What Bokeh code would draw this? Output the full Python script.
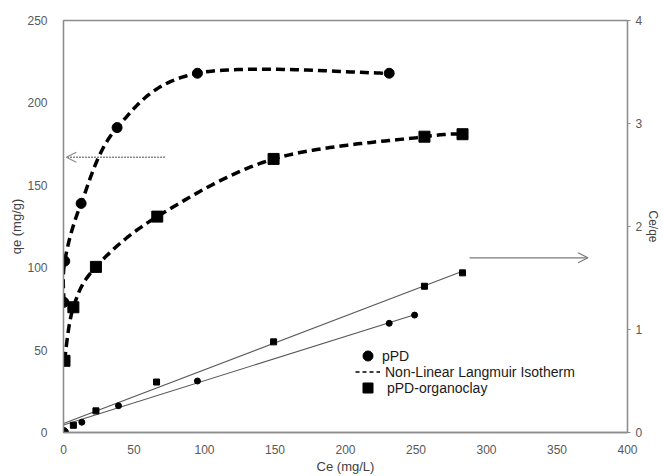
import numpy as np
from bokeh.plotting import figure
from bokeh.models import (Range1d, LinearAxis, FixedTicker, Arrow, OpenHead,
                          Legend, LegendItem)
from bokeh.embed import file_html
from bokeh.resources import INLINE

# Non-linear isotherm data: qe (mg/g) against Ce (mg/L)
ppd_ce = [0.0, 0.3, 0.9, 12.5, 38, 95, 231]
ppd_qe = [0, 79, 104, 139, 185, 218, 218]
clay_ce = [0.7, 7, 23, 66.5, 149, 256, 283]
clay_qe = [43.5, 76, 100.5, 131, 166, 179.5, 181]

# Linearised Langmuir data: Ce/qe against Ce
ppd_lin_ce = [13, 39, 95, 231, 249]
ppd_lin_ratio = [0.10, 0.26, 0.50, 1.06, 1.14]
clay_lin_ce = [7, 23, 66, 149, 256, 283]
clay_lin_ratio = [0.07, 0.21, 0.49, 0.88, 1.42, 1.55]

x_ticks = [0, 50, 100, 150, 200, 250, 300, 350, 400]
qe_ticks = [0, 50, 100, 150, 200, 250]
ratio_ticks = [0, 1, 2, 3, 4]

FONT = "Liberation Sans"
AXIS_GREY = "#8c8c8c"
TICK_TEXT = "#595959"


def smooth(xs, ys, n=40):
    """Cardinal (Catmull-Rom) spline through the points, like a smoothed line."""
    P = np.column_stack([xs, ys]).astype(float)
    m = np.zeros_like(P)
    m[1:-1] = (P[2:] - P[:-2]) / 2.0
    m[0] = (P[1] - P[0]) / 2.0
    m[-1] = (P[-1] - P[-2]) / 2.0
    t = np.linspace(0, 1, n)[:, None]
    h00 = 2 * t**3 - 3 * t**2 + 1
    h10 = t**3 - 2 * t**2 + t
    h01 = -2 * t**3 + 3 * t**2
    h11 = t**3 - t**2
    segs = [h00 * P[i] + h10 * m[i] + h01 * P[i + 1] + h11 * m[i + 1]
            for i in range(len(P) - 1)]
    out = np.vstack(segs)
    return out[:, 0], out[:, 1]


p = figure(width=663, height=476, output_backend="svg", toolbar_location=None,
           x_range=Range1d(0, 400), y_range=Range1d(0, 250),
           min_border_left=63, min_border_right=30, min_border_top=20,
           min_border_bottom=38, background_fill_color="white",
           border_fill_color="white", outline_line_color=AXIS_GREY,
           outline_line_width=1.3)
p.grid.visible = False
p.extra_y_ranges = {"ratio": Range1d(0, 4)}

# primary axes
p.xaxis.ticker = FixedTicker(ticks=x_ticks)
p.yaxis.ticker = FixedTicker(ticks=qe_ticks)
p.xaxis.axis_label = "Ce (mg/L)"
p.yaxis.axis_label = "qe (mg/g)"
for ax in (p.xaxis[0], p.yaxis[0]):
    ax.axis_line_color = AXIS_GREY
    ax.axis_line_width = 1.3
    ax.major_tick_line_color = None
    ax.minor_tick_line_color = None
    ax.major_label_text_font = FONT
    ax.major_label_text_font_size = "12px"
    ax.major_label_text_color = TICK_TEXT
    ax.axis_label_text_font = FONT
    ax.axis_label_text_font_size = "13px"
    ax.axis_label_text_font_style = "normal"
    ax.axis_label_text_color = "#404040"
p.yaxis.major_label_standoff = 10
p.yaxis.axis_label_standoff = 0
p.xaxis.major_label_standoff = 6
p.xaxis.axis_label_standoff = 2

# secondary axis for the linear form
rax = LinearAxis(y_range_name="ratio", axis_label="Ce/qe",
                 ticker=FixedTicker(ticks=ratio_ticks))
rax.axis_line_color = AXIS_GREY
rax.axis_line_width = 1.3
rax.major_tick_line_color = AXIS_GREY
rax.major_tick_in = 0
rax.major_tick_out = 3
rax.minor_tick_line_color = None
rax.major_label_standoff = 5
rax.major_label_text_font = FONT
rax.major_label_text_font_size = "12px"
rax.major_label_text_color = TICK_TEXT
rax.axis_label_text_font = FONT
rax.axis_label_text_font_size = "12px"
rax.axis_label_text_font_style = "normal"
rax.axis_label_text_color = "#404040"
rax.axis_label_standoff = 1
p.add_layout(rax, "right")

# linear regression lines (thin, solid)
for xs, ys in ((clay_lin_ce, clay_lin_ratio), (ppd_lin_ce, ppd_lin_ratio)):
    k, b = np.polyfit(xs, ys, 1)
    xe = [0, xs[-1]]
    p.line(xe, [b, k * xe[1] + b], y_range_name="ratio",
           line_color="#595959", line_width=1.1)
p.scatter(clay_lin_ce, clay_lin_ratio, y_range_name="ratio", marker="square",
          size=6, color="black")
p.scatter(ppd_lin_ce, ppd_lin_ratio, y_range_name="ratio", marker="circle",
          size=6, color="black")

# smoothed non-linear Langmuir curves (dashed)
sx, sy = smooth(ppd_ce[1:], ppd_qe[1:])
p.line(sx, sy, line_color="black", line_width=3.5, line_dash="9 5")
cx, cy = smooth(clay_ce, clay_qe)
p.line(cx, cy, line_color="black", line_width=3.5, line_dash="9 5")

r_ppd = p.scatter(ppd_ce, ppd_qe, marker="circle", size=10, color="black")
r_clay = p.scatter(clay_ce, clay_qe, marker="square", size=11, color="black")
# legend-only swatch for the fitted curve style
r_dash = p.line([np.nan, np.nan], [np.nan, np.nan], line_color="black",
                line_width=1.5, line_dash="4 3")

# arrows pointing to the axis each series belongs to
p.add_layout(Arrow(x_start=72, y_start=167, x_end=2, y_end=167,
                   line_color="#8a8a8a", line_width=1.5, line_dash="2 1",
                   end=OpenHead(size=10, line_color="#8a8a8a", line_width=1.2)))
p.add_layout(Arrow(x_start=288, y_start=106, x_end=372, y_end=106,
                   line_color="#7a7a7a", line_width=1.2,
                   end=OpenHead(size=10, line_color="#7a7a7a", line_width=1.2)))

# one legend box per entry so the rows can sit close together
entries = [("pPD", r_ppd, 64, 2), ("Non-Linear Langmuir Isotherm", r_dash, 48, 5),
           ("pPD-organoclay", r_clay, 32, 7)]
for label, rend, bottom, gap in entries:
    lg = Legend(items=[LegendItem(label=label, renderers=[rend])],
                location=(292, bottom), glyph_width=25, glyph_height=25,
                label_height=16, padding=0, margin=0, label_standoff=gap,
                background_fill_alpha=0, border_line_alpha=0,
                label_text_font=FONT, label_text_font_size="14px",
                label_text_color="#1a1a1a")
    p.add_layout(lg)

open("out.html", "w").write(file_html(p, INLINE))
